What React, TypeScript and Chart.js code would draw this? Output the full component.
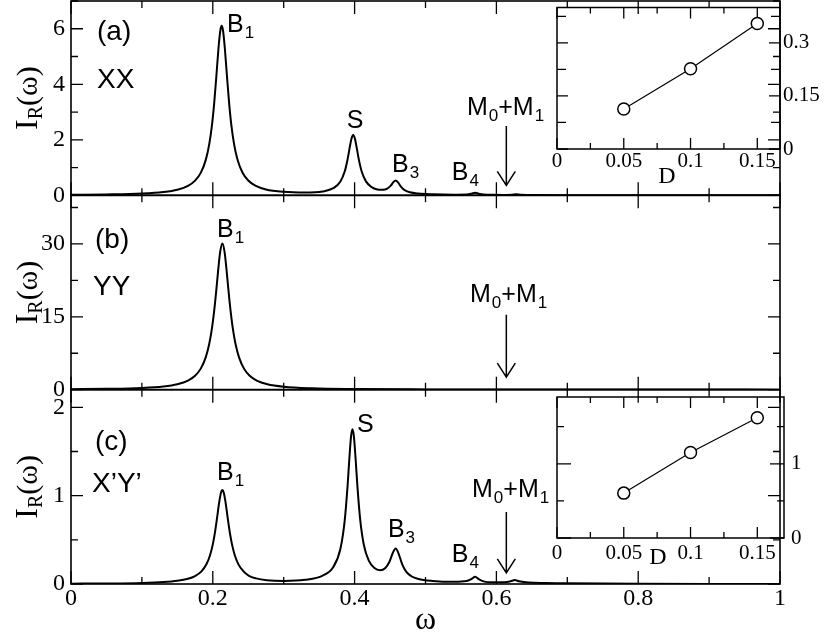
import React, { useEffect, useRef } from 'react';
import { Chart, registerables } from 'chart.js';

Chart.register(...registerables);

const SERIF = '"Liberation Serif", "Times New Roman", serif';
const SANS = '"Liberation Sans", Arial, Helvetica, sans-serif';

// (a) XX spectrum
const omegaXX = [0, 0.05, 0.1, 0.13, 0.15, 0.165, 0.175, 0.183, 0.19, 0.195, 0.199, 0.202, 0.205, 0.208, 0.2105, 0.2125, 0.2145, 0.217, 0.22, 0.223, 0.226, 0.23, 0.235, 0.242, 0.25, 0.26, 0.275, 0.3, 0.33, 0.355, 0.37, 0.38, 0.386, 0.39, 0.393, 0.3955, 0.398, 0.4005, 0.403, 0.406, 0.41, 0.416, 0.424, 0.432, 0.44, 0.446, 0.451, 0.455, 0.458, 0.461, 0.465, 0.47, 0.478, 0.49, 0.51, 0.54, 0.558, 0.565, 0.57, 0.575, 0.582, 0.595, 0.61, 0.622, 0.628, 0.634, 0.65, 0.7, 0.8, 0.9, 1.0];
const intensityXX = [0.019, 0.032, 0.065, 0.119, 0.202, 0.34, 0.528, 0.809, 1.268, 1.845, 2.567, 3.33, 4.285, 5.29, 5.92, 6.105, 5.92, 5.29, 4.285, 3.33, 2.567, 1.846, 1.27, 0.812, 0.533, 0.347, 0.211, 0.125, 0.1, 0.141, 0.257, 0.5, 0.856, 1.284, 1.708, 2.033, 2.172, 2.034, 1.709, 1.286, 0.858, 0.503, 0.296, 0.213, 0.198, 0.242, 0.349, 0.485, 0.537, 0.475, 0.323, 0.195, 0.108, 0.063, 0.038, 0.025, 0.031, 0.061, 0.094, 0.06, 0.028, 0.017, 0.015, 0.025, 0.035, 0.024, 0.01, 0.006, 0.0034, 0.0024, 0.0018];

// (b) YY spectrum
const omegaYY = [0, 0.05, 0.1, 0.13, 0.15, 0.165, 0.175, 0.183, 0.19, 0.195, 0.199, 0.202, 0.205, 0.208, 0.2105, 0.2135, 0.2165, 0.219, 0.222, 0.225, 0.228, 0.232, 0.237, 0.244, 0.252, 0.262, 0.277, 0.3, 0.34, 0.4, 0.5, 0.6, 0.7, 0.8, 0.9, 1.0];
const intensityYY = [0.103, 0.175, 0.361, 0.66, 1.123, 1.875, 2.87, 4.33, 6.64, 9.44, 12.83, 16.3, 20.58, 25.22, 28.46, 30.1, 28.46, 25.22, 20.58, 16.3, 12.83, 9.44, 6.64, 4.33, 2.87, 1.875, 1.123, 0.616, 0.291, 0.135, 0.057, 0.032, 0.02, 0.014, 0.01, 0.008];

// (c) X'Y' spectrum
const omegaXpYp = [0, 0.05, 0.1, 0.13, 0.15, 0.165, 0.175, 0.184, 0.191, 0.196, 0.2, 0.203, 0.206, 0.209, 0.2115, 0.2135, 0.2155, 0.218, 0.221, 0.224, 0.227, 0.231, 0.236, 0.243, 0.251, 0.261, 0.276, 0.3, 0.33, 0.355, 0.37, 0.38, 0.386, 0.39, 0.3925, 0.395, 0.397, 0.399, 0.4015, 0.404, 0.408, 0.413, 0.42, 0.428, 0.436, 0.443, 0.449, 0.454, 0.458, 0.462, 0.467, 0.473, 0.48, 0.49, 0.51, 0.54, 0.558, 0.565, 0.57, 0.575, 0.582, 0.597, 0.612, 0.62, 0.626, 0.632, 0.645, 0.67, 0.7, 0.8, 0.9, 1.0];
const intensityXpYp = [0.004, 0.0064, 0.0124, 0.0217, 0.036, 0.059, 0.09, 0.143, 0.223, 0.323, 0.449, 0.582, 0.748, 0.923, 1.033, 1.064, 1.033, 0.924, 0.748, 0.583, 0.451, 0.325, 0.225, 0.145, 0.093, 0.064, 0.043, 0.034, 0.047, 0.096, 0.193, 0.399, 0.715, 1.099, 1.406, 1.671, 1.753, 1.672, 1.408, 1.103, 0.72, 0.445, 0.264, 0.18, 0.156, 0.178, 0.249, 0.354, 0.402, 0.345, 0.226, 0.137, 0.088, 0.057, 0.035, 0.025, 0.033, 0.058, 0.083, 0.056, 0.03, 0.019, 0.02, 0.031, 0.044, 0.03, 0.016, 0.012, 0.0076, 0.0015, 0.001, 0.0008];

// insets: value vs D
const insetD = [0.05, 0.1, 0.15];
const insetXX = [0.113, 0.227, 0.355];
const insetXpYp = [0.605, 1.152, 1.62];

const PANELS = ['yA', 'yB', 'yC'];
const MAJOR: Record<string, number> = { x: 0.2, yA: 2, yB: 15, yC: 1 };
const ARROW_OMEGA = 0.614;

type Part = [string, boolean];
const peak = (b: string, s: string): Part[] => [[b, false], [s, true]];
const MM: Part[] = [['M', false], ['0', true], ['+M', false], ['1', true]];

const annotations: { axis: string; w: number; i: number; size: number; parts: Part[] }[] = [
  { axis: 'yA', w: 0.0367, i: 5.61, size: 28, parts: [['(a)', false]] },
  { axis: 'yA', w: 0.0367, i: 3.87, size: 28, parts: [['XX', false]] },
  { axis: 'yA', w: 0.22, i: 5.9, size: 25, parts: peak('B', '1') },
  { axis: 'yA', w: 0.389, i: 2.43, size: 25, parts: [['S', false]] },
  { axis: 'yA', w: 0.4528, i: 0.84, size: 25, parts: peak('B', '3') },
  { axis: 'yA', w: 0.537, i: 0.55, size: 25, parts: peak('B', '4') },
  { axis: 'yA', w: 0.5585, i: 2.9, size: 25, parts: MM },
  { axis: 'yB', w: 0.0339, i: 29.2, size: 28, parts: [['(b)', false]] },
  { axis: 'yB', w: 0.031, i: 19.5, size: 28, parts: [['YY', false]] },
  { axis: 'yB', w: 0.206, i: 31.4, size: 25, parts: peak('B', '1') },
  { axis: 'yB', w: 0.5628, i: 18.0, size: 25, parts: MM },
  { axis: 'yC', w: 0.0339, i: 1.52, size: 28, parts: [['(c)', false]] },
  { axis: 'yC', w: 0.0296, i: 1.04, size: 28, parts: [['X\u2019Y\u2019', false]] },
  { axis: 'yC', w: 0.206, i: 1.18, size: 25, parts: peak('B', '1') },
  { axis: 'yC', w: 0.4034, i: 1.72, size: 25, parts: [['S', false]] },
  { axis: 'yC', w: 0.447, i: 0.53, size: 25, parts: peak('B', '3') },
  { axis: 'yC', w: 0.537, i: 0.25, size: 25, parts: peak('B', '4') },
  { axis: 'yC', w: 0.5656, i: 0.985, size: 25, parts: MM },
];

const arrows = [
  { axis: 'yA', from: 2.5, to: 0.36 },
  { axis: 'yB', from: 15.4, to: 2.6 },
  { axis: 'yC', from: 0.815, to: 0.125 },
];

const isMajor = (v: number, step: number) => Math.abs(v / step - Math.round(v / step)) < 1e-6;
const fmt = (v: number) => String(Math.round(v * 1000) / 1000);
const toPoints = (xs: number[], ys: number[]) => xs.map((x, k) => ({ x, y: ys[k] }));

function drawParts(ctx: CanvasRenderingContext2D, x: number, y: number, parts: Part[], size: number) {
  let cx = x;
  for (const [t, sub] of parts) {
    const fs = sub ? Math.round(size * 0.68) : size;
    ctx.font = `${fs}px ${SANS}`;
    ctx.fillText(t, cx + (sub ? 1 : 0), sub ? y + Math.round(size * 0.24) : y);
    cx += ctx.measureText(t).width + (sub ? 1 : 0);
  }
}

const mainDecor = {
  id: 'mainDecor',
  beforeDatasetsDraw(chart: any) {
    const { ctx, chartArea: a } = chart;
    const xs = chart.scales.x;
    ctx.save();
    ctx.strokeStyle = '#000';
    for (const id of PANELS) {
      const ys = chart.scales[id];
      ctx.lineWidth = 1.3;
      ctx.beginPath();
      for (const t of ys.ticks) {
        const y = ys.getPixelForValue(t.value);
        const len = isMajor(t.value, MAJOR[id]) ? 12 : 7;
        ctx.moveTo(a.left, y);
        ctx.lineTo(a.left + len, y);
        ctx.moveTo(a.right, y);
        ctx.lineTo(a.right - len, y);
      }
      for (const t of xs.ticks) {
        const x = xs.getPixelForValue(t.value);
        const len = isMajor(t.value, MAJOR.x) ? 13 : 7;
        ctx.moveTo(x, ys.top);
        ctx.lineTo(x, ys.top + len);
        ctx.moveTo(x, ys.bottom);
        ctx.lineTo(x, ys.bottom - len);
      }
      ctx.stroke();
      ctx.lineWidth = 1.6;
      ctx.strokeRect(a.left, ys.top, a.right - a.left, ys.bottom - ys.top);
    }
    ctx.restore();
  },
  afterDraw(chart: any) {
    const { ctx, chartArea: a } = chart;
    const xs = chart.scales.x;
    ctx.save();
    ctx.fillStyle = '#000';
    ctx.strokeStyle = '#000';
    ctx.textBaseline = 'alphabetic';
    ctx.textAlign = 'left';

    // y titles I_R(ω)
    for (const id of PANELS) {
      const ys = chart.scales[id];
      const cy = (ys.top + ys.bottom) / 2;
      ctx.save();
      ctx.translate(a.left - 34, cy);
      ctx.rotate(-Math.PI / 2);
      ctx.font = `32px ${SERIF}`;
      const wI = ctx.measureText('I').width;
      ctx.font = `20px ${SERIF}`;
      const wR = ctx.measureText('R').width;
      ctx.font = `30px ${SERIF}`;
      const wW = ctx.measureText('(\u03c9)').width;
      const x0 = -(wI + wR + wW) / 2;
      ctx.font = `32px ${SERIF}`;
      ctx.fillText('I', x0, 0);
      ctx.font = `20px ${SERIF}`;
      ctx.fillText('R', x0 + wI, 5);
      ctx.font = `30px ${SERIF}`;
      ctx.fillText('(\u03c9)', x0 + wI + wR, 0);
      ctx.restore();
    }

    // x title
    ctx.font = `32px ${SERIF}`;
    ctx.textAlign = 'center';
    ctx.fillText('\u03c9', (a.left + a.right) / 2, 629);
    ctx.textAlign = 'left';

    for (const an of annotations) {
      const ys = chart.scales[an.axis];
      drawParts(ctx, xs.getPixelForValue(an.w), ys.getPixelForValue(an.i), an.parts, an.size);
    }

    ctx.lineWidth = 1.5;
    for (const ar of arrows) {
      const ys = chart.scales[ar.axis];
      const x = xs.getPixelForValue(ARROW_OMEGA);
      const y1 = ys.getPixelForValue(ar.from);
      const y2 = ys.getPixelForValue(ar.to);
      ctx.beginPath();
      ctx.moveTo(x, y1);
      ctx.lineTo(x, y2);
      ctx.moveTo(x - 9, y2 - 14);
      ctx.lineTo(x, y2);
      ctx.lineTo(x + 9, y2 - 14);
      ctx.stroke();
    }
    ctx.restore();
  },
};

function panelScale(min: number, max: number, step: number, major: number, weight: number) {
  return {
    type: 'linear',
    position: 'left',
    stack: 'panels',
    stackWeight: 1,
    weight,
    min,
    max,
    grid: { display: false, drawTicks: false },
    border: { display: false },
    ticks: {
      stepSize: step,
      includeBounds: false,
      autoSkip: false,
      padding: 6,
      color: '#000',
      font: { family: SERIF, size: 24 },
      callback: (v: number) => (isMajor(v, major) ? fmt(v) : ''),
    },
    afterFit: (s: any) => {
      s.width = 71;
      s.paddingTop = 0;
      s.paddingBottom = 0;
    },
  };
}

function lineSet(xs: number[], ys: number[], axis: string) {
  return {
    data: toPoints(xs, ys),
    yAxisID: axis,
    xAxisID: 'x',
    borderColor: '#000',
    borderWidth: 2,
    pointRadius: 0,
    fill: false,
    cubicInterpolationMode: 'monotone',
  };
}

function insetDecor(yMajor: number, yLen: [number, number], dx: number, dy: number) {
  return {
    id: 'insetDecor',
    beforeDatasetsDraw(chart: any) {
      const { ctx, chartArea: a } = chart;
      const xs = chart.scales.x;
      const ys = chart.scales.y;
      ctx.save();
      ctx.strokeStyle = '#000';
      ctx.lineWidth = 1.3;
      ctx.beginPath();
      for (const t of xs.ticks) {
        const x = xs.getPixelForValue(t.value);
        const len = isMajor(t.value, 0.05) ? 11 : 6;
        ctx.moveTo(x, a.top);
        ctx.lineTo(x, a.top + len);
        ctx.moveTo(x, a.bottom);
        ctx.lineTo(x, a.bottom - len);
      }
      for (const t of ys.ticks) {
        const y = ys.getPixelForValue(t.value);
        const len = isMajor(t.value, yMajor) ? yLen[0] : yLen[1];
        ctx.moveTo(a.left, y);
        ctx.lineTo(a.left + len, y);
        ctx.moveTo(a.right, y);
        ctx.lineTo(a.right - len, y);
      }
      ctx.stroke();
      ctx.lineWidth = 1.5;
      ctx.strokeRect(a.left, a.top, a.right - a.left, a.bottom - a.top);
      ctx.restore();
    },
    afterDraw(chart: any) {
      const { ctx, chartArea: a } = chart;
      ctx.save();
      ctx.fillStyle = '#000';
      ctx.font = `24px ${SERIF}`;
      ctx.textAlign = 'center';
      ctx.textBaseline = 'middle';
      ctx.fillText('D', a.left + dx, a.bottom + dy);
      ctx.restore();
    },
  };
}

function insetConfig(o: {
  values: number[];
  xMax: number;
  yMax: number;
  yStep: number;
  yMajor: number;
  yLen: [number, number];
  padLeft: number;
  padTop: number;
  axisH: number;
  axisW: number;
  xLabelPad: number;
  yLabelPad: number;
  dx: number;
  dy: number;
}): any {
  return {
    type: 'line',
    data: {
      datasets: [
        {
          data: toPoints(insetD, o.values),
          borderColor: '#000',
          borderWidth: 1.2,
          pointRadius: 6,
          pointBorderWidth: 1.5,
          pointBackgroundColor: '#fff',
          pointBorderColor: '#000',
          tension: 0,
        },
      ],
    },
    options: {
      animation: false,
      responsive: false,
      layout: { padding: { left: o.padLeft, top: o.padTop, right: 0, bottom: 0 } },
      plugins: { legend: { display: false }, tooltip: { enabled: false } },
      scales: {
        x: {
          type: 'linear',
          min: 0,
          max: o.xMax,
          grid: { display: false, drawTicks: false },
          border: { display: false },
          ticks: {
            stepSize: 0.025,
            includeBounds: false,
            autoSkip: false,
            maxRotation: 0,
            padding: o.xLabelPad,
            color: '#000',
            font: { family: SERIF, size: 21 },
            callback: (v: number) => (isMajor(v, 0.05) ? fmt(v) : ''),
          },
          afterFit: (s: any) => {
            s.height = o.axisH;
            s.paddingLeft = 0;
            s.paddingRight = 0;
          },
        },
        y: {
          type: 'linear',
          position: 'right',
          min: 0,
          max: o.yMax,
          grid: { display: false, drawTicks: false },
          border: { display: false },
          ticks: {
            stepSize: o.yStep,
            includeBounds: false,
            autoSkip: false,
            padding: o.yLabelPad,
            color: '#000',
            font: { family: SERIF, size: 21 },
            callback: (v: number) => (isMajor(v, o.yMajor) ? fmt(v) : ''),
          },
          afterFit: (s: any) => {
            s.width = o.axisW;
            s.paddingTop = 0;
            s.paddingBottom = 0;
          },
        },
      },
    },
    plugins: [insetDecor(o.yMajor, o.yLen, o.dx, o.dy)],
  };
}

export default function App() {
  const mainRef = useRef<HTMLCanvasElement>(null);
  const insetARef = useRef<HTMLCanvasElement>(null);
  const insetCRef = useRef<HTMLCanvasElement>(null);

  useEffect(() => {
    const charts: Chart[] = [];
    if (mainRef.current) {
      const cfg: any = {
        type: 'line',
        data: {
          datasets: [
            lineSet(omegaXX, intensityXX, 'yA'),
            lineSet(omegaYY, intensityYY, 'yB'),
            lineSet(omegaXpYp, intensityXpYp, 'yC'),
          ],
        },
        options: {
          animation: false,
          responsive: false,
          layout: { padding: { left: 0, right: 50, top: 1, bottom: 0 } },
          plugins: { legend: { display: false }, tooltip: { enabled: false } },
          scales: {
            x: {
              type: 'linear',
              position: 'bottom',
              min: 0,
              max: 1,
              grid: { display: false, drawTicks: false },
              border: { display: false },
              ticks: {
                stepSize: 0.1,
                autoSkip: false,
                maxRotation: 0,
                padding: 0,
                color: '#000',
                font: { family: SERIF, size: 24 },
                callback: (v: number) => (isMajor(v, MAJOR.x) ? fmt(v) : ''),
              },
              afterFit: (s: any) => {
                s.height = 48;
                s.paddingLeft = 0;
                s.paddingRight = 0;
              },
            },
            yA: panelScale(0, 7, 1, MAJOR.yA, 3),
            yB: panelScale(0, 40, 7.5, MAJOR.yB, 2),
            yC: panelScale(0, 2.2, 0.5, MAJOR.yC, 1),
          },
        },
        plugins: [mainDecor],
      };
      charts.push(new Chart(mainRef.current, cfg));
    }
    if (insetARef.current) {
      charts.push(
        new Chart(
          insetARef.current,
          insetConfig({
            values: insetXX,
            xMax: 0.167,
            yMax: 0.4,
            yStep: 0.075,
            yMajor: 0.15,
            yLen: [11, 9],
            padLeft: 17,
            padTop: 7,
            axisH: 41,
            axisW: 50,
            xLabelPad: 0,
            yLabelPad: 3,
            dx: 110,
            dy: 28,
          })
        )
      );
    }
    if (insetCRef.current) {
      charts.push(
        new Chart(
          insetCRef.current,
          insetConfig({
            values: insetXpYp,
            xMax: 0.17,
            yMax: 1.9,
            yStep: 0.5,
            yMajor: 1,
            yLen: [14, 7],
            padLeft: 17,
            padTop: 12,
            axisH: 37,
            axisW: 46,
            xLabelPad: 3,
            yLabelPad: 7,
            dx: 101,
            dy: 20,
          })
        )
      );
    }
    return () => charts.forEach((c) => c.destroy());
  }, []);

  return (
    <div style={{ position: 'absolute', left: 0, top: 0, width: 830, height: 632, background: '#fff' }}>
      <canvas ref={mainRef} width={830} height={632} style={{ position: 'absolute', left: 0, top: 0 }} />
      <canvas ref={insetARef} width={290} height={190} style={{ position: 'absolute', left: 540, top: 0 }} />
      <canvas ref={insetCRef} width={290} height={190} style={{ position: 'absolute', left: 540, top: 385 }} />
    </div>
  );
}
